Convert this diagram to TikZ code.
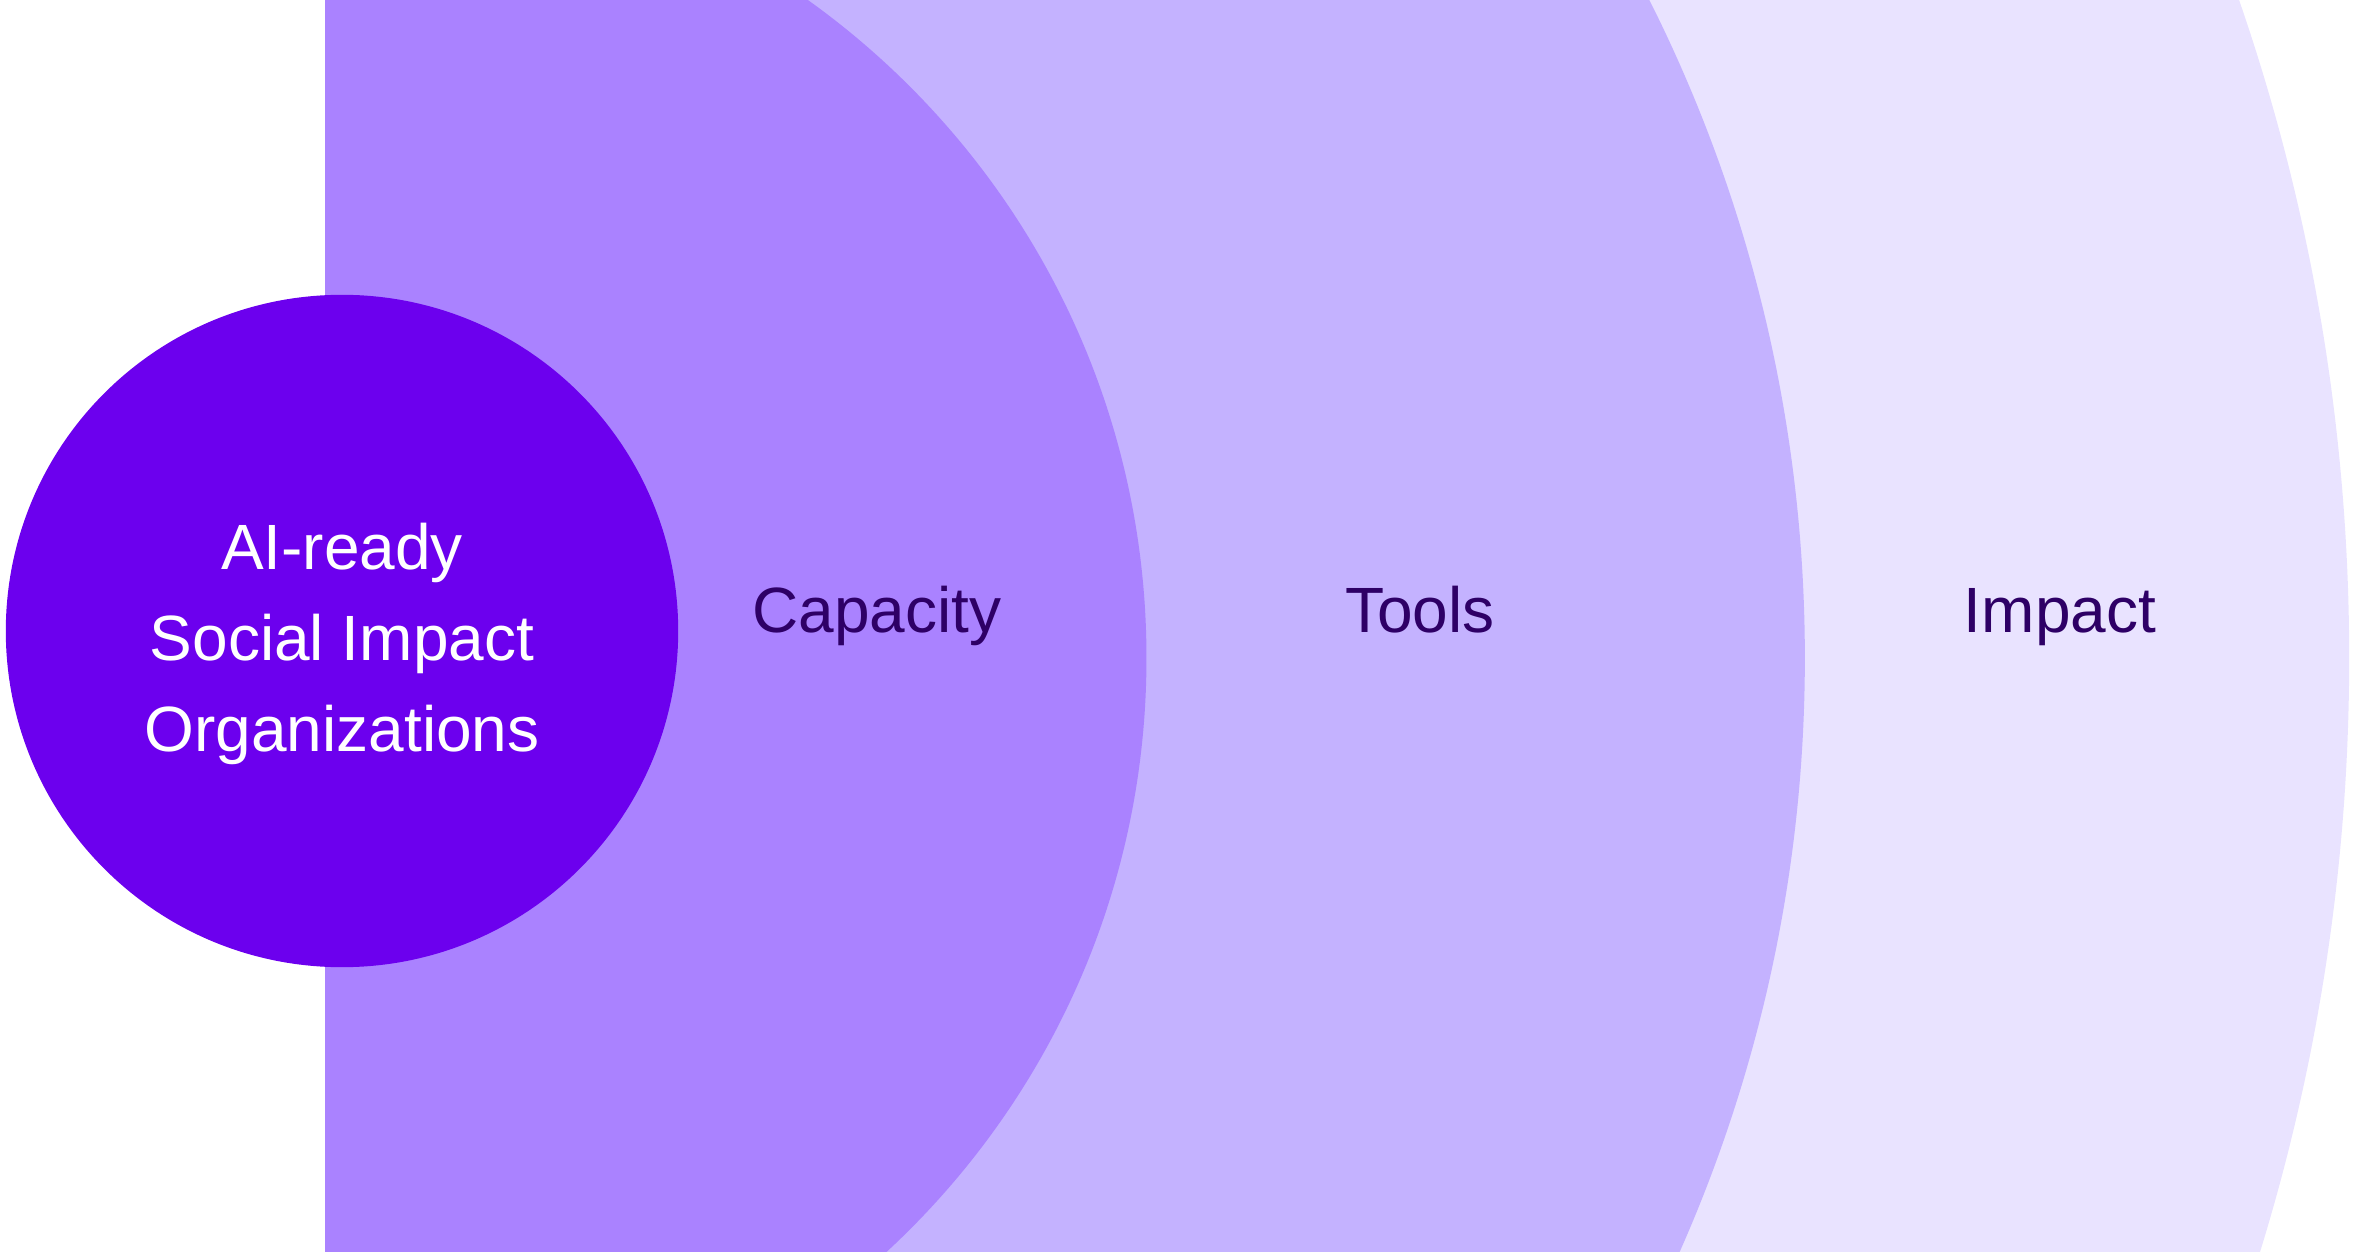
\documentclass[tikz,border=0pt]{standalone}
\usepackage{fontspec}
\setmainfont{Liberation Sans}
\usetikzlibrary{positioning}
\definecolor{clrCore}{RGB}{108,  0,238}
\definecolor{clrR1}  {RGB}{170,130,255}
\definecolor{clrR2}  {RGB}{196,178,255}
\definecolor{clrR3}  {RGB}{233,227,255}
\definecolor{clrLbl} {RGB}{ 46,  0,102}
\tikzset{
  ringfill/.style={draw=none},
  corenode/.style={circle, fill=clrCore, minimum size=6.72cm, inner sep=0pt},
  coretxt/.style={font=\fontsize{18.2pt}{26pt}\selectfont, text=white, align=center, inner sep=0pt},
  ringlbl/.style={font=\fontsize{18.2pt}{26pt}\selectfont, text=clrLbl, inner sep=0pt, anchor=base},
}
\begin{document}
\begin{tikzpicture}[x=0.01cm, y=-0.01cm]
\useasboundingbox (0,0) rectangle (2372,1252);
% rings, cut off at the left edge of the panel
\begin{scope}
  \clip (325,0) rectangle (2372,1252);
  \fill[clrR3, ringfill] (338,658) circle (20.10cm);
  \fill[clrR2, ringfill] (338,658) circle (14.66cm);
  \fill[clrR1, ringfill] (338,658) circle (8.08cm);
\end{scope}
\node[corenode] (core) at (342,631) {};
\node[coretxt] (coretext) at ([yshift=-0.13cm]core.center) {AI-ready\\Social Impact\\Organizations};
\node[ringlbl] (capacity) at (877,633) {Capacity};
\node[ringlbl] (tools) at (1420,633) {Tools};
\node[ringlbl] (impact) at (2060,633) {Impact};
\end{tikzpicture}
\end{document}
